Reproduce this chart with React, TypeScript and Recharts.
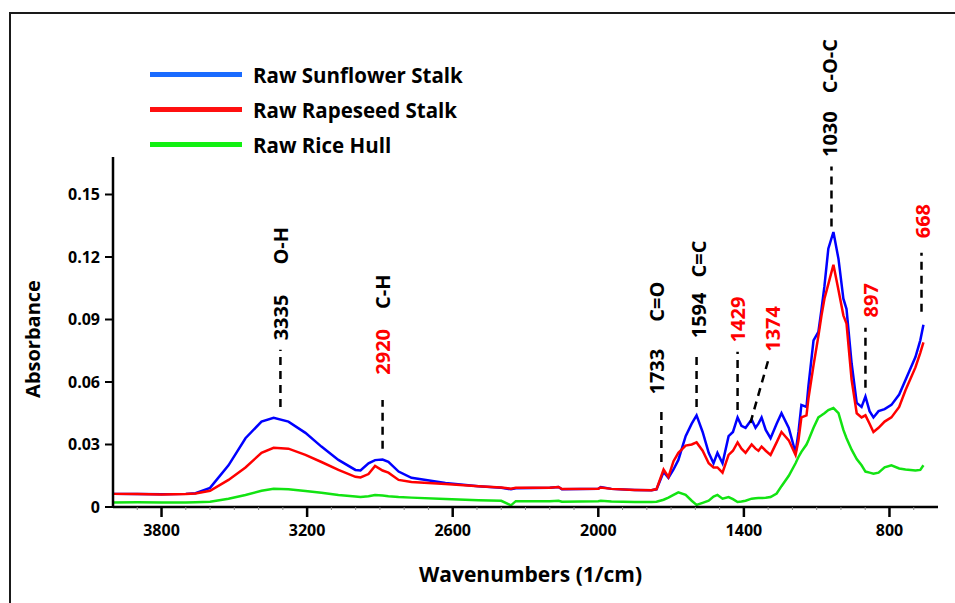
import React from "react";
import { LineChart, Line, XAxis, YAxis, ReferenceLine, ReferenceDot } from "recharts";

// wavenumber grid (1/cm), descending
const wavenumbers = [
  4000, 3900, 3800, 3700, 3660, 3600, 3524, 3454, 3388, 3338,
  3277, 3207, 3141, 3071, 3001, 2980, 2947, 2920, 2889, 2865,
  2823, 2770, 2630, 2494, 2400, 2360, 2340, 2200, 2164, 2150,
  2000, 1990, 1946, 1850, 1781, 1760, 1731, 1711, 1690, 1670,
  1640, 1615, 1595, 1570, 1545, 1525, 1509, 1488, 1463, 1445,
  1426, 1410, 1393, 1368, 1352, 1340, 1327, 1310, 1290, 1265,
  1245, 1215, 1187, 1175, 1163, 1142, 1134, 1113, 1093, 1080,
  1068, 1052, 1031, 1010, 990, 977, 956, 935, 915, 899,
  882, 866, 845, 820, 792, 760, 734, 693, 673, 660,
];

const sunflower = [
  0.0063, 0.0062, 0.0061, 0.0063, 0.0066, 0.0092, 0.02, 0.033, 0.041, 0.0428,
  0.041, 0.0356, 0.029, 0.0226, 0.0178, 0.0175, 0.021, 0.0225, 0.0228, 0.0217,
  0.017, 0.014, 0.0115, 0.01, 0.0092, 0.0085, 0.009, 0.0092, 0.0096, 0.0085,
  0.0088, 0.0096, 0.0087, 0.0082, 0.008, 0.0085, 0.0168, 0.014, 0.018, 0.0226,
  0.034, 0.04, 0.044, 0.036, 0.026, 0.021, 0.026, 0.021, 0.034, 0.036,
  0.043, 0.039, 0.038, 0.042, 0.038, 0.04, 0.043, 0.037, 0.033, 0.04,
  0.045, 0.038, 0.026, 0.036, 0.049, 0.048, 0.058, 0.08, 0.084, 0.095,
  0.106, 0.124, 0.132, 0.119, 0.1, 0.095, 0.069, 0.05, 0.048, 0.053,
  0.046, 0.043, 0.046, 0.047, 0.049, 0.054, 0.061, 0.072, 0.08, 0.0875,
];

const rapeseed = [
  0.0063, 0.0062, 0.006, 0.0062, 0.0065, 0.0078, 0.013, 0.019, 0.026, 0.0284,
  0.028, 0.025, 0.0216, 0.0178, 0.0145, 0.0142, 0.0158, 0.0197, 0.0175, 0.0165,
  0.013, 0.012, 0.011, 0.01, 0.0094, 0.0088, 0.0092, 0.0092, 0.0096, 0.0086,
  0.0088, 0.0094, 0.0087, 0.0082, 0.008, 0.0086, 0.018, 0.0144, 0.022, 0.026,
  0.0295, 0.03, 0.031, 0.027, 0.021, 0.019, 0.019, 0.0165, 0.025, 0.027,
  0.031, 0.028, 0.026, 0.03, 0.028, 0.027, 0.029, 0.027, 0.025, 0.031,
  0.036, 0.032, 0.025, 0.032, 0.043, 0.044, 0.052, 0.068, 0.082, 0.092,
  0.1, 0.107, 0.1163, 0.104, 0.092, 0.088, 0.061, 0.045, 0.043, 0.044,
  0.04, 0.036, 0.038, 0.041, 0.043, 0.048, 0.056, 0.067, 0.074, 0.079,
];

const riceHull = [
  0.0022, 0.0023, 0.0022, 0.0022, 0.0023, 0.0025, 0.004, 0.0058, 0.0078, 0.0087,
  0.0085, 0.0077, 0.0068, 0.0058, 0.005, 0.0048, 0.0052, 0.0058, 0.0055, 0.0052,
  0.0048, 0.0045, 0.0038, 0.0032, 0.003, 0.0008, 0.0028, 0.0028, 0.003, 0.0025,
  0.0028, 0.003, 0.0026, 0.0024, 0.0024, 0.0025, 0.0035, 0.0045, 0.0058, 0.007,
  0.0058, 0.003, 0.001, 0.002, 0.003, 0.005, 0.0058, 0.004, 0.0048, 0.0038,
  0.0024, 0.0026, 0.003, 0.004, 0.0042, 0.0043, 0.0043, 0.0044, 0.0048, 0.0065,
  0.01, 0.015, 0.021, 0.024, 0.0265, 0.03, 0.032, 0.038, 0.043, 0.044,
  0.045, 0.0465, 0.0475, 0.045, 0.037, 0.033, 0.0275, 0.023, 0.02, 0.017,
  0.0165, 0.016, 0.0165, 0.019, 0.02, 0.0185, 0.018, 0.0175, 0.0178, 0.02,
];

const seriesNames = ["Raw Sunflower Stalk", "Raw Rapeseed Stalk", "Raw Rice Hull"];
const seriesColors = ["#0000ff", "#ff0000", "#12e312"];
const legendColors = ["#1a6bff", "#ff1010", "#12f012"];

const yTicks = [0, 0.03, 0.06, 0.09, 0.12, 0.15];
const xMajorTicks = [3800, 3200, 2600, 2000, 1400, 800];
const xMinorTicks = [3900, 3700, 3600, 3500, 3400, 3300, 3100, 3000, 2900, 2800, 2700, 2500, 2400, 2300, 2200, 2100, 1900, 1800, 1700, 1600, 1500, 1300, 1200, 1100, 1000, 900, 700];

// peak markers: dashed leader (x, from -> x2, to) and rotated label starting at (textX, textY)
const peaks = [
  { label: "3335", group: "O-H", red: false, x: 3310, from: 0.048, to: 0.0755, textX: 3310, textY: 0.08, gap: 30 },
  { label: "2920", group: "C-H", red: true, x: 2889, from: 0.028, to: 0.0514, textX: 2893, textY: 0.0635, gap: 20 },
  { label: "1733", group: "C=O", red: false, x: 1740, from: 0.0216, to: 0.0466, textX: 1764, textY: 0.054, gap: 27 },
  { label: "1594", group: "C=C", red: false, x: 1595, from: 0.048, to: 0.072, textX: 1588, textY: 0.081, gap: 15 },
  { label: "1429", group: "", red: true, x: 1426, from: 0.0466, to: 0.0745, textX: 1430, textY: 0.079, gap: 0 },
  { label: "1374", group: "", red: true, x: 1373, x2: 1299, from: 0.0404, to: 0.0707, textX: 1286, textY: 0.0745, gap: 0 },
  { label: "1030", group: "C-O-C", red: false, x: 1039, from: 0.1346, to: 0.1635, textX: 1051, textY: 0.168, gap: 18 },
  { label: "897", group: "", red: true, x: 899, from: 0.0572, to: 0.086, textX: 882, textY: 0.091, gap: 0 },
  { label: "668", group: "", red: true, x: 668, from: 0.0937, to: 0.122, textX: 668, textY: 0.129, gap: 0 },
];

const FONT = "'Open Sans', Lato, sans-serif";

const XTick = (props: any) => {
  const { x, y, payload } = props;
  const major = xMajorTicks.includes(payload.value);
  return (
    <g>
      <line x1={x} x2={x} y1={y} y2={y + (major ? 10 : 3)} stroke={major ? "#000" : "#888"} strokeWidth={major ? 2.5 : 1} />
      {major && (
        <text x={x} y={y + 29} textAnchor="middle" fill="#000" fontFamily={FONT} fontWeight={700} fontSize={16}>
          {payload.value}
        </text>
      )}
    </g>
  );
};

const peakText = (p: (typeof peaks)[number]) => (props: any) => {
  const vb = props.viewBox;
  const cx = vb.x + (vb.width || 0) / 2;
  const cy = vb.y + (vb.height || 0) / 2;
  return (
    <text
      x={cx}
      y={cy}
      transform={`rotate(-90 ${cx} ${cy})`}
      textAnchor="start"
      dominantBaseline="central"
      fontFamily={FONT}
      fontWeight={700}
      fontSize={20}
    >
      <tspan fill={p.red ? "#ff0000" : "#000"}>{p.label}</tspan>
      {p.group && (
        <tspan dx={p.gap} fill="#000">
          {p.group}
        </tspan>
      )}
    </text>
  );
};

export default function App() {
  const rows = wavenumbers.map((wn, i) => ({
    wn,
    sunflower: sunflower[i],
    rapeseed: rapeseed[i],
    riceHull: riceHull[i],
  }));
  const keys = ["sunflower", "rapeseed", "riceHull"];

  return (
    <div style={{ position: "absolute", left: 0, top: 0, width: 955, height: 603, overflow: "hidden", background: "#fff" }}>
      <div style={{ position: "absolute", left: 9, top: 12, width: 1000, height: 700, border: "2.5px solid #1a1a1a" }} />

      <div style={{ position: "absolute", left: 150, top: 57, fontFamily: FONT, fontWeight: 700, fontSize: 20.5, color: "#000" }}>
        {seriesNames.map((name, i) => (
          <div key={name} style={{ display: "flex", alignItems: "center", height: 35 }}>
            <div style={{ width: 92, height: 5, background: legendColors[i], marginRight: 11 }} />
            <span>{name}</span>
          </div>
        ))}
      </div>

      <div style={{ position: "absolute", left: 0, top: 0 }}>
        <LineChart width={955} height={603} data={rows} margin={{ top: 157, right: 17, bottom: 10, left: 0 }}>
          <XAxis
            dataKey="wn"
            type="number"
            domain={[600, 4000]}
            reversed
            ticks={[...xMajorTicks, ...xMinorTicks].sort((a, b) => b - a)}
            interval={0}
            tick={<XTick />}
            tickLine={false}
            tickSize={0}
            tickMargin={0}
            height={86}
            axisLine={{ stroke: "#000", strokeWidth: 2.5 }}
            label={(props: any) => {
              const vb = props.viewBox;
              return (
                <text x={vb.x + vb.width / 2 + 5} y={vb.y + 75} textAnchor="middle" fill="#000" fontFamily={FONT} fontWeight={700} fontSize={21}>
                  Wavenumbers (1/cm)
                </text>
              );
            }}
          />
          <YAxis
            type="number"
            domain={[0, 0.168]}
            ticks={yTicks}
            interval={0}
            width={113}
            tickFormatter={(v: number) => (v === 0 ? "0" : v.toFixed(2))}
            tick={{ fill: "#000", fontFamily: FONT, fontWeight: 700, fontSize: 16 }}
            tickSize={8}
            tickMargin={5}
            tickLine={{ stroke: "#000", strokeWidth: 2 }}
            axisLine={{ stroke: "#000", strokeWidth: 2.5 }}
            label={(props: any) => {
              const vb = props.viewBox;
              const cx = vb.x + 32;
              const cy = vb.y + vb.height / 2 + 7;
              return (
                <text x={cx} y={cy} transform={`rotate(-90 ${cx} ${cy})`} textAnchor="middle" dominantBaseline="central" fill="#000" fontFamily={FONT} fontWeight={700} fontSize={20}>
                  Absorbance
                </text>
              );
            }}
          />
          {keys.map((k, i) => (
            <Line
              key={k}
              type="linear"
              dataKey={k}
              name={seriesNames[i]}
              stroke={seriesColors[i]}
              strokeWidth={2.5}
              dot={false}
              isAnimationActive={false}
            />
          ))}
          {peaks.map((p) => (
            <ReferenceLine
              key={`l${p.label}`}
              segment={[
                { x: p.x, y: p.from },
                { x: p.x2 ?? p.x, y: p.to },
              ]}
              stroke="#000"
              strokeWidth={2.5}
              strokeDasharray="8 6"
              ifOverflow="visible"
            />
          ))}
          {peaks.map((p) => (
            <ReferenceDot
              key={`t${p.label}`}
              x={p.textX}
              y={p.textY}
              r={0}
              fill="none"
              stroke="none"
              ifOverflow="visible"
              label={peakText(p)}
            />
          ))}
        </LineChart>
      </div>
    </div>
  );
}
